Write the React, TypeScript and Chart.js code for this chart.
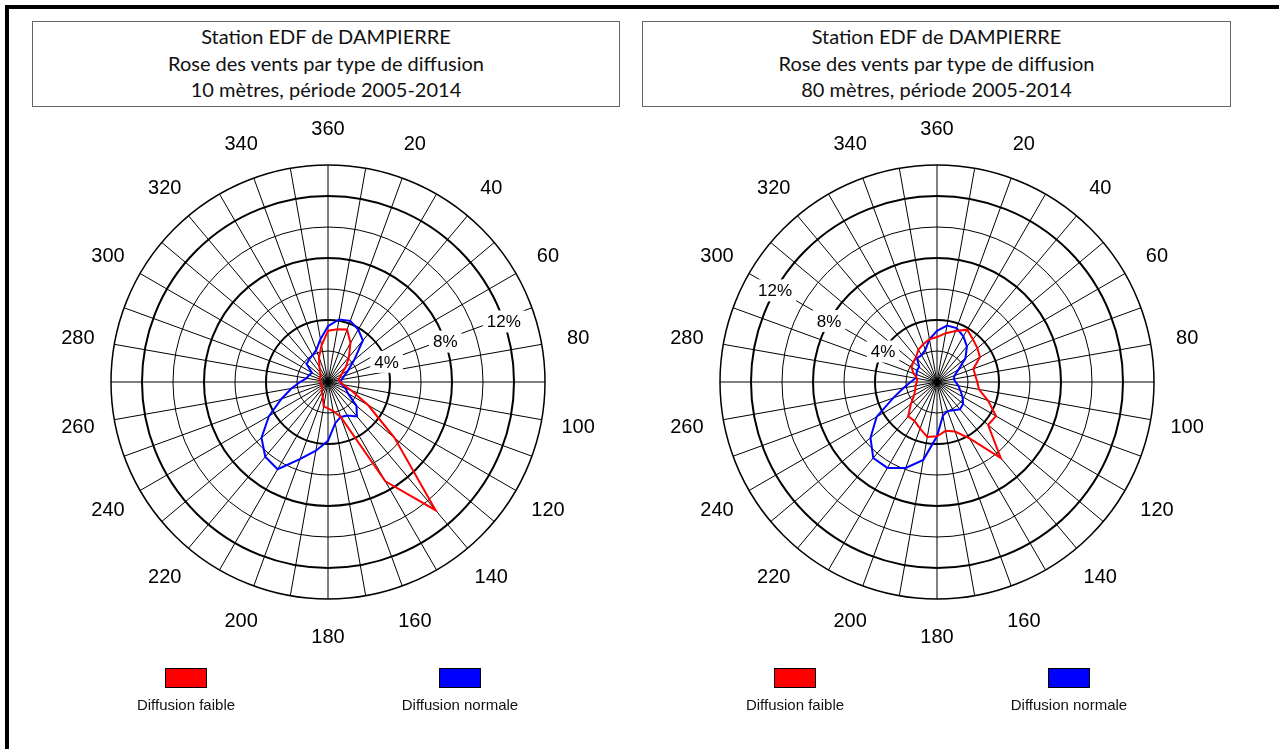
import { useEffect, useRef } from "react";
import { Chart, registerables } from "chart.js";

Chart.register(...registerables);

// Wind directions (degrees), one sector every 10°, clockwise from north
const DIRECTIONS = [
  "360", "10", "20", "30", "40", "50", "60", "70", "80", "90", "100", "110",
  "120", "130", "140", "150", "160", "170", "180", "190", "200", "210", "220", "230",
  "240", "250", "260", "270", "280", "290", "300", "310", "320", "330", "340", "350",
];

// Frequencies (%) per direction, 10 m mast
const FAIBLE_10M = [
  3.3, 3.45, 3.6, 2.9, 2.1, 1.5, 1.0, 0.8, 0.7, 0.8, 1.0, 1.6,
  3.0, 5.6, 10.8, 7.4, 2.4, 1.9, 1.7, 1.6, 1.0, 0.8, 0.6, 0.5,
  0.5, 0.5, 0.5, 0.5, 0.5, 0.6, 0.6, 0.6, 0.8, 1.1, 1.7, 2.4,
];
const NORMALE_10M = [
  3.6, 4.1, 4.2, 3.9, 3.5, 2.2, 1.5, 1.1, 0.9, 0.8, 0.9, 1.2,
  1.5, 2.4, 2.9, 2.5, 2.4, 2.7, 3.8, 4.5, 5.3, 6.5, 6.3, 5.6,
  4.4, 3.2, 2.4, 1.8, 1.4, 1.3, 1.2, 1.8, 1.9, 2.0, 2.2, 2.8,
];

// Frequencies (%) per direction, 80 m mast
const FAIBLE_80M = [
  2.9, 3.2, 3.5, 3.9, 3.6, 3.4, 3.2, 2.5, 2.5, 2.6, 2.75, 3.5,
  4.4, 4.3, 6.4, 4.2, 3.4, 3.2, 3.5, 3.6, 3.2, 2.9, 2.9, 2.2,
  1.7, 1.5, 1.4, 1.3, 1.3, 1.6, 1.9, 2.0, 2.1, 2.4, 2.6, 2.8,
];
const NORMALE_80M = [
  3.3, 3.7, 3.7, 3.4, 3.0, 2.4, 1.6, 1.2, 1.1, 1.2, 1.4, 1.6,
  1.9, 2.2, 2.3, 2.1, 2.0, 2.2, 3.5, 5.1, 5.9, 6.4, 6.4, 5.6,
  4.5, 3.0, 2.2, 1.7, 1.4, 1.4, 1.5, 1.5, 2.0, 2.0, 2.2, 2.8,
];

const RING_LABELS = [4, 8, 12];
const R_MAX = 14;
const R_STEP = 2;

const COMPASS_FONT = '20px "Liberation Sans", Arial, sans-serif';
const RING_FONT = '17px "Liberation Sans", Arial, sans-serif';

type RoseProps = {
  faible: number[];
  normale: number[];
  ringBearing: number;
};

function makeLabelPlugin(ringBearing: number) {
  return {
    id: "roseLabels",
    beforeDatasetsDraw(chart: any) {
      const scale = chart.scales.r;
      const ctx = chart.ctx as CanvasRenderingContext2D;
      const outer = scale.getDistanceFromCenterForValue(R_MAX);
      ctx.save();
      ctx.textAlign = "center";
      ctx.textBaseline = "middle";

      // compass labels every 20°
      ctx.font = COMPASS_FONT;
      ctx.fillStyle = "#000";
      DIRECTIONS.forEach((d, i) => {
        if (i % 2 !== 0) return;
        const p = scale.getPointPosition(i, outer + 37);
        ctx.fillText(d, p.x, p.y + 1);
      });

      // ring value labels along one bearing, on a white patch
      ctx.font = RING_FONT;
      const idx = ringBearing / (360 / DIRECTIONS.length);
      RING_LABELS.forEach((v) => {
        const p = scale.getPointPosition(idx, scale.getDistanceFromCenterForValue(v));
        const text = `${v}%`;
        const w = ctx.measureText(text).width + 8;
        const h = 22;
        ctx.fillStyle = "#fff";
        ctx.fillRect(p.x - w / 2, p.y - h / 2, w, h);
        ctx.fillStyle = "#000";
        ctx.fillText(text, p.x, p.y + 1);
      });
      ctx.restore();
    },
  };
}

function Rose({ faible, normale, ringBearing }: RoseProps) {
  const ref = useRef<HTMLCanvasElement | null>(null);
  useEffect(() => {
    if (!ref.current) return;
    const chart = new Chart(ref.current, {
      type: "radar",
      data: {
        labels: DIRECTIONS,
        datasets: [
          {
            label: "Diffusion faible",
            data: faible,
            borderColor: "#ff0000",
            borderWidth: 2,
            fill: false,
            pointRadius: 0,
            tension: 0,
          },
          {
            label: "Diffusion normale",
            data: normale,
            borderColor: "#0000ff",
            borderWidth: 2,
            fill: false,
            pointRadius: 0,
            tension: 0,
          },
        ],
      },
      options: {
        responsive: false,
        animation: false,
        layout: { padding: 83 },
        plugins: {
          legend: { display: false },
          tooltip: { enabled: false },
        },
        scales: {
          r: {
            min: 0,
            max: R_MAX,
            ticks: { display: false, stepSize: R_STEP },
            pointLabels: { display: false },
            angleLines: { color: "#000", lineWidth: 1 },
            grid: {
              circular: true,
              color: "#000",
              lineWidth: (c: any) => {
                const v = c.tick ? c.tick.value : 0;
                if (v === R_MAX) return 1.5;
                return v % 4 === 0 ? 2 : 1;
              },
            },
          },
        },
      },
      plugins: [makeLabelPlugin(ringBearing)],
    });
    return () => chart.destroy();
  }, [faible, normale, ringBearing]);
  return (
    <canvas
      ref={ref}
      width={600}
      height={600}
      style={{ width: 600, height: 600, display: "block" }}
    />
  );
}

const titleStyle: React.CSSProperties = {
  position: "absolute",
  top: 21,
  height: 86,
  boxSizing: "border-box",
  border: "1px solid #666",
  fontFamily: "Lato, 'DejaVu Sans', sans-serif",
  fontSize: 20,
  color: "#111",
  textAlign: "center",
  lineHeight: "26.5px",
  paddingTop: 1,
};

function Legend({ center }: { center: number }) {
  const items = [
    { label: "Diffusion faible", color: "#ff0000", dx: -142 },
    { label: "Diffusion normale", color: "#0000ff", dx: 132 },
  ];
  return (
    <>
      {items.map((it) => (
        <div
          key={it.label}
          style={{
            position: "absolute",
            left: center + it.dx - 80,
            top: 668,
            width: 160,
            textAlign: "center",
            fontFamily: "'Liberation Sans', Arial, sans-serif",
            fontSize: 15,
            color: "#111",
          }}
        >
          <div
            style={{
              width: 42,
              height: 20,
              boxSizing: "border-box",
              border: "1px solid #000",
              background: it.color,
              margin: "0 auto",
            }}
          />
          <div style={{ marginTop: 8, lineHeight: "17px" }}>{it.label}</div>
        </div>
      ))}
    </>
  );
}

export default function App() {
  const leftCenter = 328;
  const rightCenter = 937;
  return (
    <div
      style={{
        position: "absolute",
        left: 0,
        top: 0,
        width: 1279,
        height: 749,
        background: "#fff",
        overflow: "hidden",
      }}
    >
      <div style={{ position: "absolute", left: 5, top: 5, width: 1274, height: 4, background: "#000" }} />
      <div style={{ position: "absolute", left: 5, top: 5, width: 4, height: 744, background: "#000" }} />

      <div style={{ ...titleStyle, left: 32, width: 588 }}>
        Station EDF de DAMPIERRE
        <br />
        Rose des vents par type de diffusion
        <br />
        10 mètres, période 2005-2014
      </div>
      <div style={{ ...titleStyle, left: 642, width: 589 }}>
        Station EDF de DAMPIERRE
        <br />
        Rose des vents par type de diffusion
        <br />
        80 mètres, période 2005-2014
      </div>

      <div style={{ position: "absolute", left: leftCenter - 300, top: 82 }}>
        <Rose faible={FAIBLE_10M} normale={NORMALE_10M} ringBearing={71} />
      </div>
      <div style={{ position: "absolute", left: rightCenter - 300, top: 82 }}>
        <Rose faible={FAIBLE_80M} normale={NORMALE_80M} ringBearing={299.5} />
      </div>

      <Legend center={leftCenter} />
      <Legend center={rightCenter} />
    </div>
  );
}
